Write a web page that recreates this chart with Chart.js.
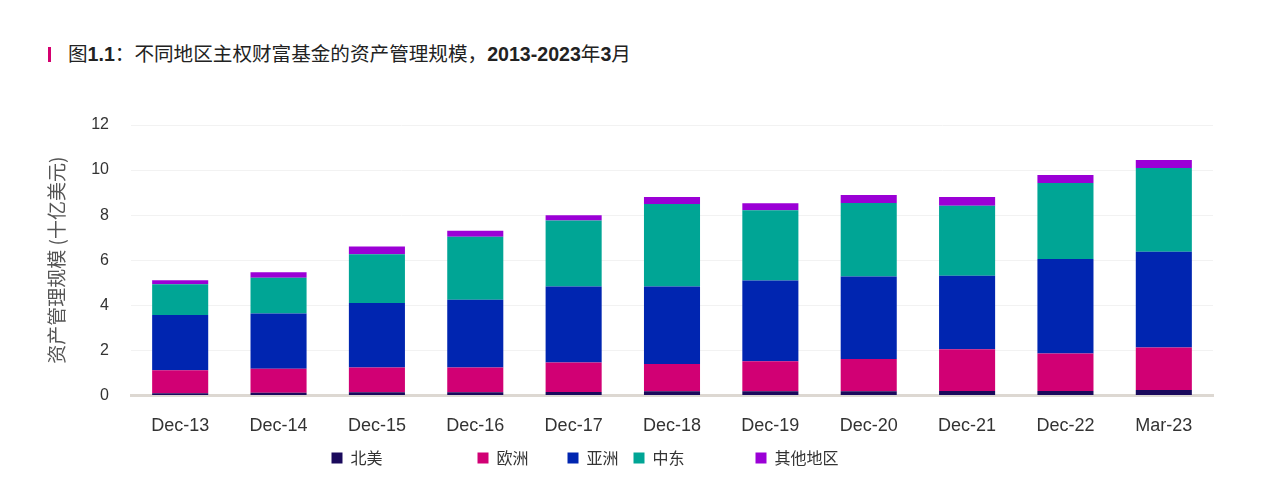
<!DOCTYPE html>
<html lang="zh-CN">
<head>
  <meta charset="UTF-8">
  <title>图1.1：不同地区主权财富基金的资产管理规模</title>
  <script src="https://cdn.jsdelivr.net/npm/chart.js"></script>
  <style>
    html,body{margin:0;padding:0;background:#fff}
    #wrap{position:relative;width:1265px;height:496px;overflow:hidden}
    #chart{position:absolute;left:0;top:0}
    .title{position:absolute;left:48px;top:43px;height:22px;line-height:22px;font-size:19.6px;color:#222;
      font-family:'Liberation Sans','Noto Sans CJK SC',sans-serif;white-space:nowrap}
    .title .bar{display:inline-block;width:3px;height:15px;background:#d4006f;vertical-align:-1px;margin-right:17px}
    .title b{font-weight:700}
  </style>
</head>
<body>
<div id="wrap">
  <div class="title"><span class="bar"></span>图<b>1.1</b>：不同地区主权财富基金的资产管理规模，<b>2013-2023</b>年<b>3</b>月</div>
  <canvas id="chart" width="1265" height="496"></canvas>
</div>

<script>
// values (axis units)
const periods      = ['Dec-13','Dec-14','Dec-15','Dec-16','Dec-17','Dec-18','Dec-19','Dec-20','Dec-21','Dec-22','Mar-23'];
const northAmerica = [0.10,0.12,0.14,0.14,0.15,0.18,0.18,0.18,0.20,0.20,0.24];
const europe       = [1.02,1.06,1.10,1.10,1.31,1.21,1.33,1.43,1.85,1.66,1.89];
const asia         = [2.45,2.46,2.86,3.00,3.37,3.44,3.59,3.67,3.26,4.19,4.24];
const middleEast   = [1.36,1.58,2.16,2.80,2.93,3.66,3.12,3.26,3.11,3.38,3.72];
const otherRegions = [0.18,0.25,0.35,0.27,0.24,0.31,0.31,0.35,0.38,0.35,0.36];

const seriesNames  = ['北美','欧洲','亚洲','中东','其他地区'];
const yTicks       = [0,2,4,6,8,10,12];

const colours = ['#1a0a5c','#d10074','#0025b0','#00a595','#9b00d6'];
// extra en-spaces after each legend label, to get the uneven gaps of the original
const legendGap = [10,3,0,7,11];

const fontFam = "'Liberation Sans','Noto Sans CJK SC',sans-serif";

const datasets = [northAmerica,europe,asia,middleEast,otherRegions].map((vals,i)=>({
  label: seriesNames[i],
  data: vals,
  backgroundColor: colours[i],
  borderWidth: 0,
  barPercentage: 0.57,
  categoryPercentage: 1
}));

new Chart(document.getElementById('chart'),{
  type:'bar',
  data:{labels:periods,datasets},
  options:{
    responsive:false,
    animation:false,
    layout:{padding:{left:45,right:52,top:125,bottom:20}},
    plugins:{
      tooltip:{enabled:false},
      legend:{
        position:'bottom',
        labels:{
          boxWidth:11,boxHeight:11,padding:15,color:'#333',
          font:{family:"'Noto Sans CJK SC',sans-serif",size:16},
          generateLabels:chart=>{
            const items = Chart.defaults.plugins.legend.labels.generateLabels(chart);
            items.forEach((it,i)=>{ it.text = it.text + '\u2002'.repeat(legendGap[i]); it.lineWidth = 0; });
            return items;
          }
        }
      }
    },
    scales:{
      x:{
        stacked:true,
        afterFit:s=>{ s.height -= 22; },
        grid:{display:false,drawTicks:false},
        border:{color:'#ddd8d2',width:3},
        ticks:{color:'#333',padding:20,font:{family:fontFam,size:18}}
      },
      y:{
        stacked:true,
        min:0,max:12,
        afterBuildTicks:s=>{ s.ticks = yTicks.map(v=>({value:v})); },
        afterFit:s=>{ s.width = 86; },
        grid:{color:'#f2f2f2',lineWidth:1,drawTicks:false},
        border:{display:false},
        ticks:{color:'#333',padding:22,font:{family:fontFam,size:16}},
        title:{display:true,text:'资产管理规模 (十亿美元)',color:'#555',padding:0,
          font:{family:"'Noto Sans CJK SC',sans-serif",size:19}}
      }
    }
  }
});
</script>
</body>
</html>
